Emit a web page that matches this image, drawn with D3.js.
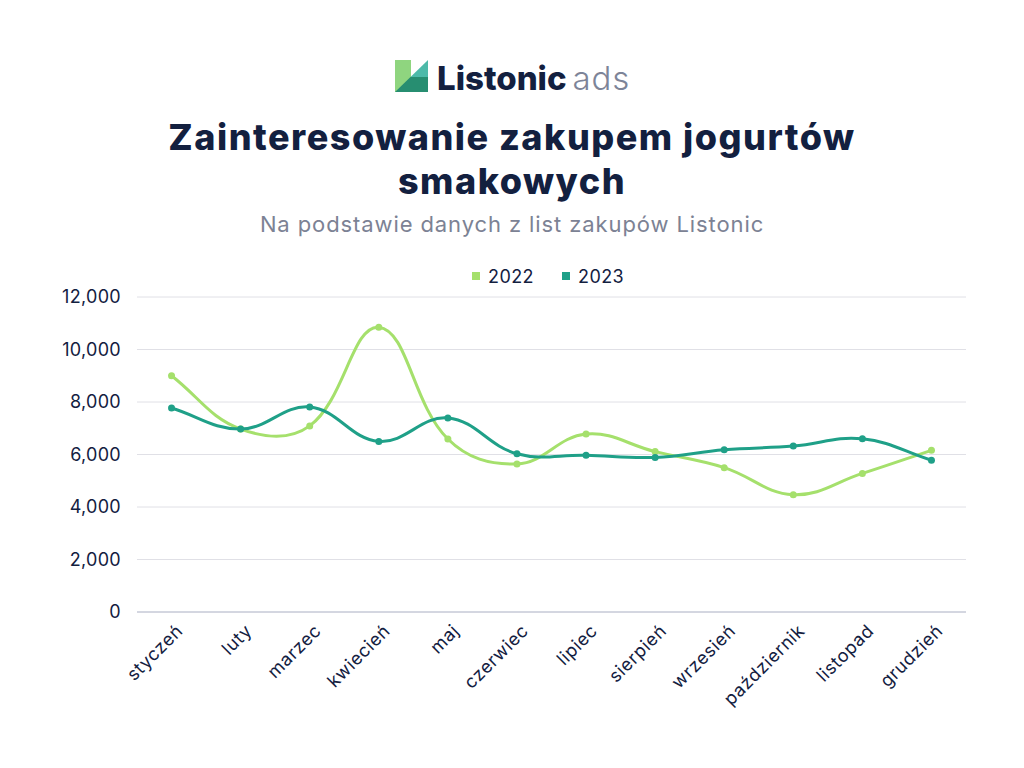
<!DOCTYPE html>
<html>
<head>
<meta charset="utf-8">
<script src="https://cdn.jsdelivr.net/npm/d3@7"></script>
<style>
  body { margin: 0; background: #fff; }
  text { font-family: Inter, "Noto Sans", sans-serif; }
</style>
</head>
<body>
<div id="chart"></div>
<script>
var months = ["styczeń", "luty", "marzec", "kwiecień", "maj", "czerwiec", "lipiec",
  "sierpień", "wrzesień", "październik", "listopad", "grudzień"];
var values2022 = [9000, 6970, 7090, 10850, 6590, 5640, 6780, 6110, 5500, 4470, 5280, 6160];
var values2023 = [7770, 6970, 7810, 6500, 7390, 6030, 5970, 5890, 6180, 6320, 6600, 5780];
var seriesNames = ["2022", "2023"];
var yTicks = [0, 2000, 4000, 6000, 8000, 10000, 12000];
var titleLines = ["Zainteresowanie zakupem jogurtów", "smakowych"];

var colors = ["#a5e06c", "#1fa088"];
var navy = "#13203f";

var svgWidth = 1024;
var svgHeight = 768;
var margin = { top: 297, right: 58, bottom: 156, left: 137 };
var width = svgWidth - margin.left - margin.right;
var height = svgHeight - margin.top - margin.bottom;

var svg = d3.select("#chart")
  .append("svg")
  .attr("width", svgWidth)
  .attr("height", svgHeight);

// logo
var logo = svg.append("g").attr("transform", "translate(395, 60)");
logo.append("rect").attr("x", 0).attr("y", 0).attr("width", 16).attr("height", 32).attr("fill", "#8fd57f");
logo.append("path").attr("d", "M15.5,17 L33,0 L33,17 Z").attr("fill", "#4dbaa9");
logo.append("path").attr("d", "M0,32 L15.5,17 L33,17 L33,32 Z").attr("fill", "#278e71");
logo.append("text")
  .attr("x", 42).attr("y", 30)
  .attr("font-size", 33).attr("font-weight", 800)
  .attr("fill", navy)
  .text("Listonic")
  .append("tspan")
  .attr("dx", 6)
  .attr("font-weight", 300)
  .attr("fill", "#7d8498")
  .attr("letter-spacing", 0.8)
  .text("ads");

// title, wrapped on two lines
var title = svg.append("text")
  .attr("text-anchor", "middle")
  .attr("font-size", 36).attr("font-weight", 800)
  .attr("letter-spacing", 1.5)
  .attr("fill", navy);
title.selectAll("tspan")
  .data(titleLines)
  .enter()
  .append("tspan")
  .attr("x", 512)
  .attr("y", (d, i) => 150 + i * 44)
  .text(d => d);

svg.append("text")
  .attr("x", 512).attr("y", 232)
  .attr("text-anchor", "middle")
  .attr("font-size", 22)
  .attr("letter-spacing", 0.9)
  .attr("fill", "#7c8294")
  .text("Na podstawie danych z list zakupów Listonic");

// legend
var legend = svg.append("g").attr("transform", "translate(472, 276)");
seriesNames.forEach(function(name, i) {
  var g = legend.append("g").attr("transform", `translate(${i * 90}, 0)`);
  g.append("rect").attr("x", 0).attr("y", -4).attr("width", 8).attr("height", 8).attr("fill", colors[i]);
  g.append("text").attr("x", 16).attr("y", 6.5)
    .attr("font-size", 18).attr("letter-spacing", 0.4)
    .attr("fill", navy).text(name);
});

var chartGroup = svg.append("g")
  .attr("transform", `translate(${margin.left}, ${margin.top})`);

var xScale = d3.scalePoint()
  .domain(months)
  .range([0, width])
  .padding(0.5);

var yScale = d3.scaleLinear()
  .domain([0, 12000])
  .range([height, 0]);

// grid
chartGroup.append("g")
  .selectAll("line")
  .data(yTicks)
  .enter()
  .append("line")
  .attr("x1", 0).attr("x2", width)
  .attr("y1", d => yScale(d)).attr("y2", d => yScale(d))
  .attr("stroke", d => d === 0 ? "#a9aec2" : "#e0e0e6")
  .attr("stroke-width", 1);

var leftAxis = d3.axisLeft(yScale)
  .tickValues(yTicks)
  .tickFormat(d3.format(","))
  .tickSize(0)
  .tickPadding(16);
var yAxis = chartGroup.append("g").call(leftAxis);
yAxis.select(".domain").remove();
yAxis.selectAll("text").attr("font-size", 18).attr("fill", navy)
  .attr("letter-spacing", 0.3)
  .attr("font-family", "Inter, sans-serif");

var bottomAxis = d3.axisBottom(xScale).tickSize(0).tickPadding(0);
var xAxis = chartGroup.append("g")
  .attr("transform", `translate(0, ${height})`)
  .call(bottomAxis);
xAxis.select(".domain").remove();
xAxis.selectAll("text")
  .attr("font-size", 18).attr("fill", navy)
  .attr("letter-spacing", 0.6)
  .attr("font-family", "Inter, sans-serif")
  .attr("text-anchor", "end")
  .attr("dy", 0)
  .attr("y", 0)
  .attr("transform", "translate(12, 20) rotate(-45)");

// Chart.js style spline (tension 0.4)
function splineCurve(context) {
  var pts = [];
  return {
    areaStart: function() {},
    areaEnd: function() {},
    lineStart: function() { pts = []; },
    point: function(x, y) { pts.push([+x, +y]); },
    lineEnd: function() {
      var t = 0.4;
      var cps = pts.map(function(p, i) {
        var prev = pts[i - 1] || p, next = pts[i + 1] || p;
        var d01 = Math.hypot(p[0] - prev[0], p[1] - prev[1]);
        var d12 = Math.hypot(next[0] - p[0], next[1] - p[1]);
        var s01 = d01 / (d01 + d12 || 1), s12 = d12 / (d01 + d12 || 1);
        var fa = t * s01, fb = t * s12;
        return {
          prev: [p[0] - fa * (next[0] - prev[0]), p[1] - fa * (next[1] - prev[1])],
          next: [p[0] + fb * (next[0] - prev[0]), p[1] + fb * (next[1] - prev[1])]
        };
      });
      context.moveTo(pts[0][0], pts[0][1]);
      for (var i = 1; i < pts.length; i++) {
        context.bezierCurveTo(cps[i - 1].next[0], cps[i - 1].next[1],
          cps[i].prev[0], cps[i].prev[1], pts[i][0], pts[i][1]);
      }
    }
  };
}

var line = d3.line()
  .x((d, i) => xScale(months[i]))
  .y(d => yScale(d))
  .curve(splineCurve);

[values2022, values2023].forEach(function(vals, s) {
  chartGroup.append("path")
    .datum(vals)
    .attr("fill", "none")
    .attr("stroke", colors[s])
    .attr("stroke-width", 3)
    .attr("d", line);

  chartGroup.selectAll(".pt" + s)
    .data(vals)
    .enter()
    .append("circle")
    .attr("class", "pt" + s)
    .attr("cx", (d, i) => xScale(months[i]))
    .attr("cy", d => yScale(d))
    .attr("r", 3.5)
    .attr("fill", colors[s]);
});
</script>
</body>
</html>
